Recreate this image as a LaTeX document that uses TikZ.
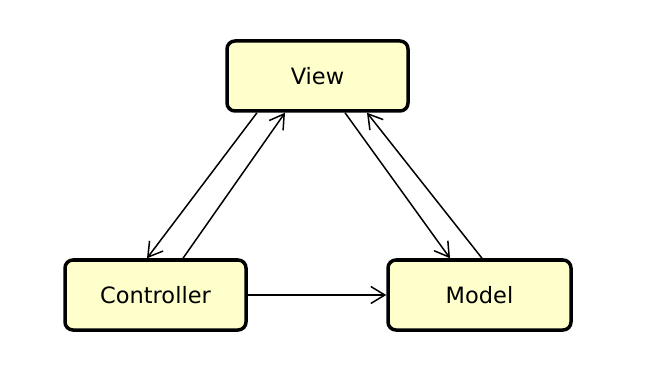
\documentclass[tikz,border=0pt]{standalone}
\usepackage{fontspec}
\setmainfont{DejaVu Sans}
\usetikzlibrary{arrows.meta}
\definecolor{boxfill}{RGB}{255,255,204}
\begin{document}
\begin{tikzpicture}[x=1pt,y=-1pt,
  box/.style={draw=black, line width=3.5pt, fill=boxfill, rounded corners=8pt,
    minimum width=181pt, minimum height=70pt, inner sep=0pt, font=\fontsize{22.5}{26}\selectfont},
  conn/.style={line width=1.5pt, -{Straight Barb[length=14pt,width=17pt]}}]
\useasboundingbox (0,0) rectangle (656,382);
\fill[white] (0,0) rectangle (656,382);
\node[box] (view) at (317.5,76) {\raisebox{-2pt}{View}};
\node[box] (ctrl) at (155.5,295) {\raisebox{-1pt}{Controller}};
\node[box, minimum width=183pt] (model) at (479.5,295) {\raisebox{-1pt}{Model}};
\draw[conn] ([xshift=-60.5pt]view.south) -- ([xshift=-8.5pt]ctrl.north);
\draw[conn] ([xshift=27.5pt]ctrl.north) -- ([xshift=-32.5pt]view.south);
\draw[conn] ([xshift=27.5pt]view.south) -- ([xshift=-29.5pt]model.north);
\draw[conn] ([xshift=2.5pt]model.north) -- ([xshift=49.5pt]view.south);
\draw[conn] (ctrl.east) -- (model.west);
\end{tikzpicture}
\end{document}
